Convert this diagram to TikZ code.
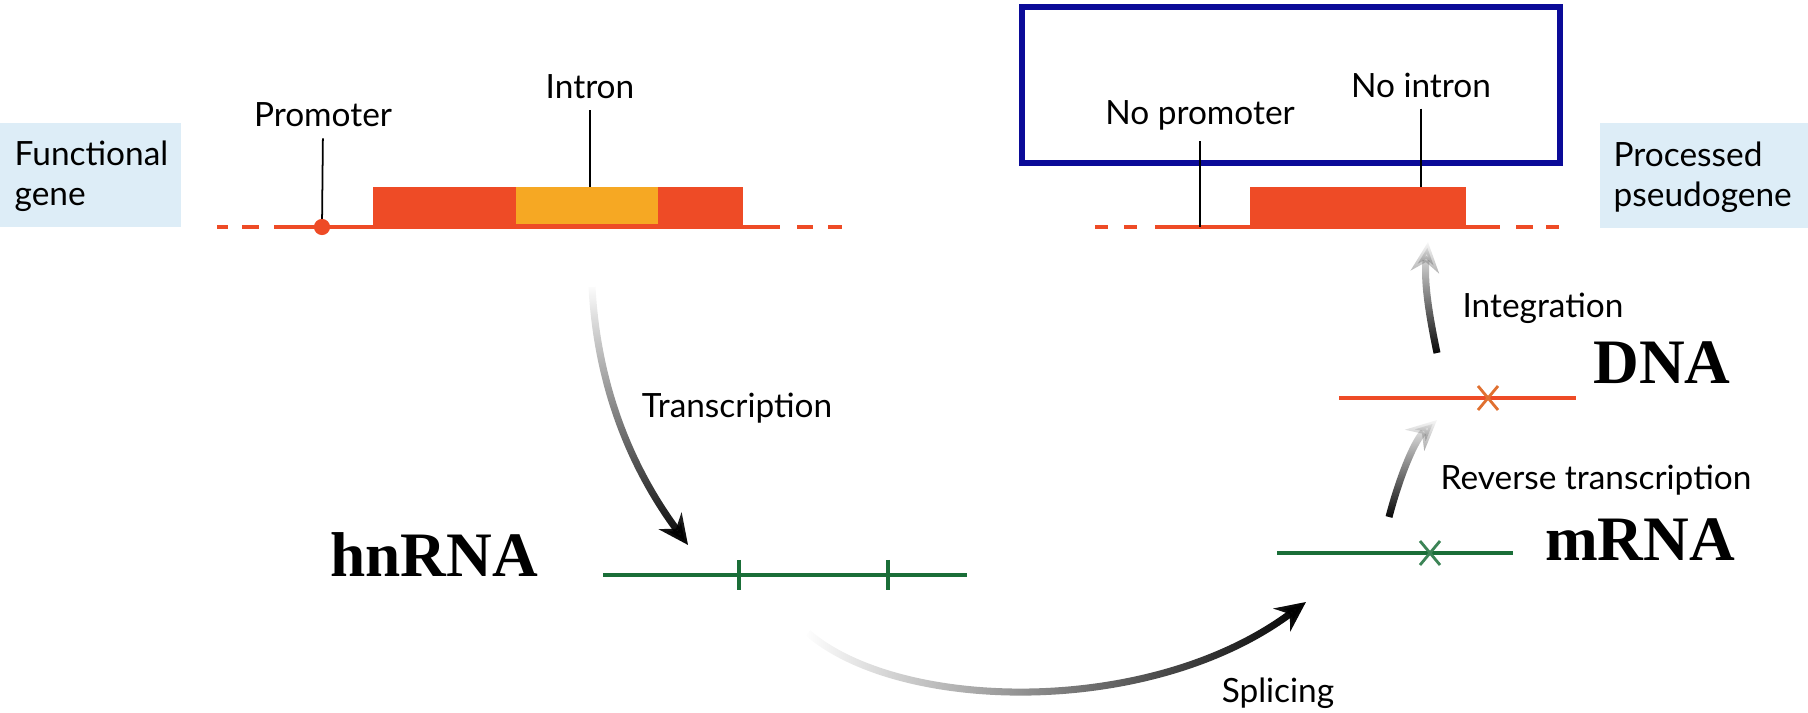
\documentclass[tikz,border=0pt]{standalone}
\usepackage{fontspec}
\setmainfont{Lato}
\newfontfamily\rnafont{Liberation Serif}
\usetikzlibrary{arrows.meta,fadings}

\definecolor{genered}{HTML}{EE4B26}
\definecolor{intronyel}{HTML}{F6A823}
\definecolor{boxblue}{HTML}{DDEDF7}
\definecolor{framenavy}{HTML}{0B0B98}
\definecolor{rnagreen}{HTML}{1A6E38}
\definecolor{rnacyan}{HTML}{4FB8D8}
\definecolor{rnayel}{HTML}{C8DC30}
\definecolor{xorange}{HTML}{E07030}

\tikzfading[name=fadeup, top color=transparent!100, middle color=transparent!35, bottom color=transparent!0]
\tikzfading[name=fadeleft, left color=transparent!100, middle color=transparent!35, right color=transparent!0]

\tikzset{
  lbl/.style={font=\fontsize{9.5}{11.4}\selectfont, inner sep=0pt},
  big/.style={font=\rnafont\bfseries\fontsize{18}{20}\selectfont, inner sep=0pt},
  lead/.style={line width=0.5pt, shorten <=3pt},
  dna/.style={genered, line width=1.15pt},
  flow/.style={line width=2pt, -{Stealth[length=8.5pt,width=8pt]}},
}

\begin{document}
\begin{tikzpicture}[x=0.01cm,y=-0.01cm]
    \useasboundingbox (0,0) rectangle (1808,713);
    % --- gene funzionale ---
    \fill[boxblue] (0,123) rectangle (181,227);
    \node[lbl, align=left, anchor=west] (functional) at (14,176) {Functional\\gene};
    \foreach \a/\b in {217/228, 242/259, 274/780, 797/813, 828/842}
      {\draw[dna] (\a,227) -- (\b,227);}
    \fill[genered] (373,187) rectangle (743,227);
    \fill[intronyel] (516,187) rectangle (658,224);
    \coordinate (prom-pt) at (322,227);
    \coordinate (intron-pt) at (590,187);
    \node[lbl] (promoter) at (323,115) {Promoter};
    \node[lbl] (intron) at (590,87) {Intron};
    \draw[lead] (promoter.south) -- (prom-pt);
    \draw[lead] (intron.south) -- (intron-pt);
    \fill[genered] (prom-pt) circle[radius=2.3pt];
    % --- pseudogene processato ---
    \draw[framenavy, line width=1.7pt] (1022,7) rectangle (1560,163);
    \fill[boxblue] (1600,123) rectangle (1808,228);
    \node[lbl, align=left, anchor=west] (processed) at (1613,177) {Processed\\pseudogene};
    \foreach \a/\b in {1095/1108, 1124/1137, 1155/1500, 1516/1533, 1546/1559}
      {\draw[dna] (\a,227) -- (\b,227);}
    \fill[genered] (1250,187) rectangle (1466,227);
    \coordinate (noprom-pt) at (1200,227);
    \coordinate (nointron-pt) at (1421,187);
    \node[lbl] (nopromoter) at (1200,115) {No promoter};
    \node[lbl] (nointron) at (1421,85) {No intron};
    \draw[lead] (nopromoter.south) -- (noprom-pt);
    \draw[lead] (nointron.south) -- (nointron-pt);
    % --- hnRNA ---
    \node[big] (hnrna) at (434,555) {hnRNA};
    \coordinate (hn-l) at (603,575);
    \coordinate (hn-r) at (967,575);
    \draw[rnacyan, line width=0.8pt, yshift=0.45pt] (hn-l) -- (hn-r);
    \draw[rnayel, line width=0.8pt, yshift=-0.45pt] (hn-l) -- (hn-r);
    \draw[rnagreen, line width=1.1pt] (hn-l) -- (hn-r);
    \foreach \t in {739,888}{\draw[rnagreen, line width=0.9pt] (\t,560) -- (\t,590);}
    % --- mRNA ---
    \node[big] (mrna) at (1640,540) {mRNA};
    \coordinate (m-l) at (1277,553);
    \coordinate (m-r) at (1513,553);
    \draw[rnacyan, line width=0.8pt, yshift=0.45pt] (m-l) -- (m-r);
    \draw[rnayel, line width=0.8pt, yshift=-0.45pt] (m-l) -- (m-r);
    \draw[rnagreen, line width=1.1pt] (m-l) -- (m-r);
    \draw[rnagreen!85!white, line width=0.8pt] (1420,541) -- (1440,565) (1420,565) -- (1440,541);
    % --- DNA ---
    \node[big] (dna) at (1662,363) {DNA};
    \coordinate (d-l) at (1339,398);
    \coordinate (d-r) at (1576,398);
    \draw[genered, line width=1.4pt] (d-l) -- (d-r);
    \draw[xorange, line width=0.8pt] (1478,386) -- (1498,410) (1478,410) -- (1498,386);
    % --- frecce ---
    \coordinate (tr-s) at (592,287);  \coordinate (tr-e) at (688,545);
    \coordinate (sp-s) at (808,633);  \coordinate (sp-e) at (1306,602);
    \coordinate (rt-s) at (1389,517); \coordinate (rt-e) at (1437,420);
    \coordinate (in-s) at (1437,353); \coordinate (in-e) at (1428,242);
    \draw[flow, path fading=fadeup] (tr-s) .. controls (598,400) and (640,480) .. (tr-e);
    \draw[flow, path fading=fadeleft] (sp-s) .. controls (900,712) and (1150,718) .. (sp-e);
    \draw[flow, path fading=fadeup] (rt-s) .. controls (1400,475) and (1415,440) .. (rt-e);
    \draw[flow, path fading=fadeup] (in-s) .. controls (1428,310) and (1424,280) .. (in-e);
    \node[lbl] (transcription) at (737,408) {Transcription};
    \node[lbl] (splicing) at (1278,693) {Splicing};
    \node[lbl] (revtrans) at (1596,480) {Reverse transcription};
    \node[lbl] (integration) at (1543,308) {Integration};
  \end{tikzpicture}
\end{document}
